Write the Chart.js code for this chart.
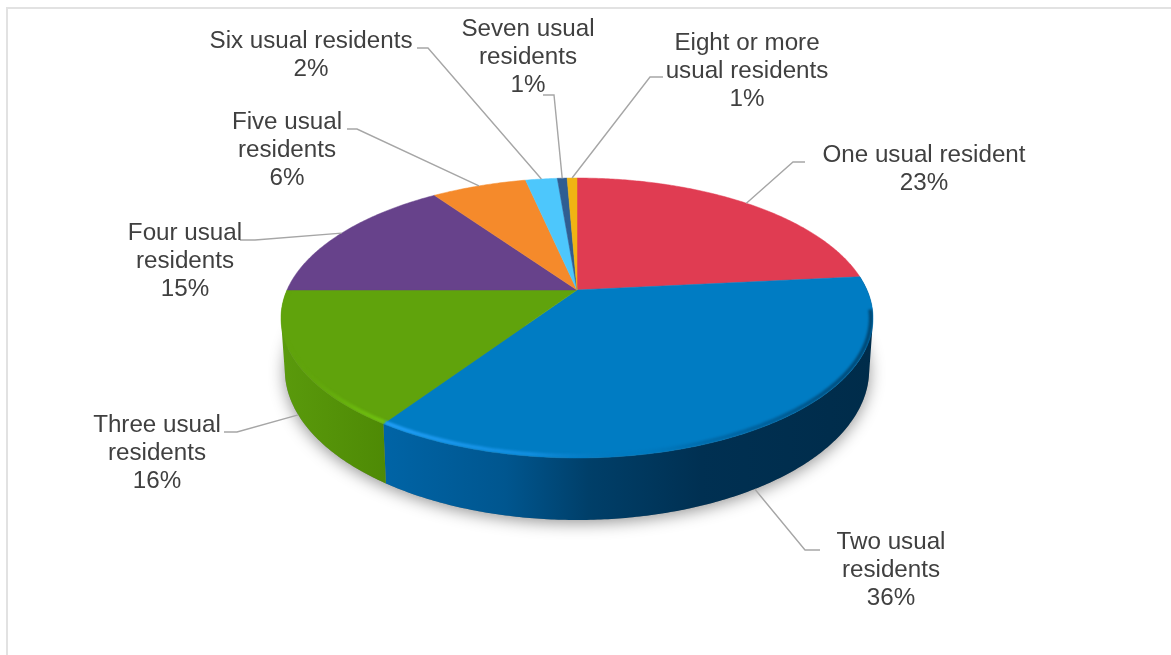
<!DOCTYPE html>
<html>
<head>
<meta charset="utf-8">
<title>Usual residents</title>
<script src="https://cdn.jsdelivr.net/npm/chart.js@4"></script>
<style>
  html, body { margin: 0; padding: 0; background: #fff; }
  #wrap { position: relative; width: 1171px; height: 655px; overflow: hidden; }
  #frame { position: absolute; left: 6px; top: 7px; width: 1300px; height: 800px; border: 2px solid #e2e2e2; box-sizing: border-box; }
  canvas { position: absolute; left: 0; top: 0; }
</style>
</head>
<body>
<div id="wrap">
  <div id="frame"></div>
  <canvas id="myPieChart" width="1171" height="655"></canvas>
</div>
<script>
const categories = ["One usual resident", "Two usual residents", "Three usual residents", "Four usual residents", "Five usual residents", "Six usual residents", "Seven usual residents", "Eight or more usual residents"];
const shares = [23.4, 36, 15.6, 15.3, 6.3, 2.1, 0.65, 0.65];
const sliceColors = ["#e03c52", "#007cc3", "#60a30c", "#67428b", "#f58a2b", "#4dc7fc", "#2f5d92", "#f0b413"];

// label lines, wrapped the way the picture wraps them
const labelLines = [
  ["One usual resident"],
  ["Two usual", "residents"],
  ["Three usual", "residents"],
  ["Four usual", "residents"],
  ["Five usual", "residents"],
  ["Six usual residents"],
  ["Seven usual", "residents"],
  ["Eight or more", "usual residents"]
];
// page layout of the labels: centre x and first baseline y
const labelAnchors = [[924, 162], [891, 549], [157, 432], [185, 240], [287, 129], [311, 48], [528, 36], [747, 50]];
// leader elbows, from the slice edge out to the label
const leaderElbows = [
  [[793, 162], [805, 162]],
  [[805, 550], [820, 550]],
  [[237, 432], [224, 432]],
  [[255, 240], [240, 240]],
  [[357, 129], [347, 129]],
  [[428, 48], [417, 48]],
  [[554, 95], [543, 95]],
  [[650, 77], [663, 77]]
];
const wallStops = [
  null,
  [[0, "#0064a6"], [0.25, "#00568f"], [0.42, "#003f69"], [0.65, "#003052"], [1, "#002c4a"]],
  [[0, "#5a9a0c"], [1, "#4e8a05"]],
  null, null, null, null, null
];

const tilt = 0.4634;
const persp = 0.2;
const rimMidY = 28;      // centre of the drawn ellipse sits below the pie centre
const wallDrop = 52;
const wallGrow = 1.0714; // base ellipse is a little taller than the top one
const wallShrink = 0.987;

function project(arc, a) {
  const u = Math.cos(a), v = Math.sin(a);
  const w = 1 - persp * v;
  return [arc.x + arc.outerRadius * u / w, arc.y + arc.outerRadius * tilt * v / w];
}

function lower(arc, p) {
  const mid = arc.y + rimMidY;
  return [arc.x + (p[0] - arc.x) * wallShrink, mid + wallDrop + (p[1] - mid) * wallGrow];
}

function rimPoints(arc, from, to) {
  const n = Math.max(2, Math.ceil(Math.abs(to - from) / 0.01));
  const pts = [];
  for (let i = 0; i <= n; i++) pts.push(project(arc, from + (to - from) * i / n));
  return pts;
}

function trace(ctx, pts) {
  pts.forEach((p, i) => i ? ctx.lineTo(p[0], p[1]) : ctx.moveTo(p[0], p[1]));
}

function signedArea(pts) {
  let s = 0;
  pts.forEach((p, i) => {
    const q = pts[(i + 1) % pts.length];
    s += p[0] * q[1] - q[0] * p[1];
  });
  return s;
}

const pie3d = {
  id: "pie3d",
  beforeDatasetsDraw(chart) {
    const ctx = chart.ctx;
    const arcs = chart.getDatasetMeta(0).data;
    const first = arcs[0];

    // soft shadow under the base
    ctx.save();
    ctx.shadowColor = "rgba(0,0,0,0.42)";
    ctx.shadowBlur = 16;
    ctx.shadowOffsetY = 3;
    ctx.fillStyle = "#888";
    ctx.beginPath();
    trace(ctx, rimPoints(first, -0.1, Math.PI + 0.1).map(p => lower(first, p)));
    ctx.closePath();
    ctx.fill();
    ctx.restore();

    // walls: top rim swept down to the base rim, all strips in one path so no seams show
    arcs.forEach((arc, i) => {
      if (!wallStops[i]) return;
      const top = rimPoints(arc, arc.startAngle, arc.endAngle);
      const bottom = top.map(p => lower(arc, p));
      const xs = top.map(p => p[0]).concat(bottom.map(p => p[0]));
      const g = ctx.createLinearGradient(Math.min(...xs), 0, Math.max(...xs), 0);
      wallStops[i].forEach(s => g.addColorStop(s[0], s[1]));
      ctx.fillStyle = g;
      ctx.beginPath();
      for (let k = 0; k < top.length - 1; k++) {
        const quad = [top[k], top[k + 1], bottom[k + 1], bottom[k]];
        if (signedArea(quad) < 0) quad.reverse();
        trace(ctx, quad);
        ctx.closePath();
      }
      ctx.fill();
    });

    // top face
    arcs.forEach((arc, i) => {
      ctx.beginPath();
      ctx.moveTo(arc.x, arc.y);
      rimPoints(arc, arc.startAngle, arc.endAngle).forEach(p => ctx.lineTo(p[0], p[1]));
      ctx.closePath();
      ctx.fillStyle = sliceColors[i];
      ctx.fill();
      ctx.strokeStyle = sliceColors[i];
      ctx.lineWidth = 0.5;
      ctx.stroke();
    });

    // bevel just inside the front rim: light on the left, dark on the right
    ctx.save();
    ctx.beginPath();
    trace(ctx, rimPoints(first, 0, Math.PI * 2));
    ctx.closePath();
    ctx.clip();
    ctx.filter = "blur(1.3px)";
    ctx.lineWidth = 4;
    [1, 2].forEach(i => {
      const arc = arcs[i];
      const mid = arc.y + rimMidY;
      const from = i === 1 ? 0.14 : arc.startAngle;
      const pts = rimPoints(arc, from, arc.endAngle).map(p => [arc.x + (p[0] - arc.x) * 0.993, mid + (p[1] - mid) * 0.985]);
      const g = ctx.createLinearGradient(arc.x - arc.outerRadius, 0, arc.x + arc.outerRadius, 0);
      if (i === 1) {
        g.addColorStop(0.17, "rgba(35,160,250,0.95)");
        g.addColorStop(0.42, "rgba(25,150,235,0.7)");
        g.addColorStop(0.6, "rgba(0,110,175,0.1)");
        g.addColorStop(0.72, "rgba(0,70,120,0.3)");
        g.addColorStop(1, "rgba(0,45,75,0.65)");
      } else {
        g.addColorStop(0, "rgba(96,163,12,0)");
        g.addColorStop(0.12, "rgba(110,190,15,0.8)");
        g.addColorStop(0.18, "rgba(115,200,18,0.9)");
      }
      ctx.strokeStyle = g;
      ctx.beginPath();
      trace(ctx, pts);
      ctx.stroke();
    });
    ctx.restore();

    // leaders and labels
    arcs.forEach((arc, i) => {
      const midAngle = (arc.startAngle + arc.endAngle) / 2;
      let start = project(arc, midAngle);
      if (wallStops[i]) start = lower(arc, start);
      ctx.beginPath();
      trace(ctx, [start, ...leaderElbows[i]]);
      ctx.strokeStyle = "#a6a6a6";
      ctx.lineWidth = 1.4;
      ctx.stroke();

      const lines = [...labelLines[i], Math.round(shares[i]) + "%"];
      ctx.font = "24.2px 'Liberation Sans', Arial, sans-serif";
      ctx.fillStyle = "#404040";
      ctx.textAlign = "center";
      ctx.textBaseline = "alphabetic";
      lines.forEach((t, k) => ctx.fillText(t, labelAnchors[i][0], labelAnchors[i][1] + k * 28));
    });
    return false;
  }
};

new Chart(document.getElementById("myPieChart").getContext("2d"), {
  type: "pie",
  data: {
    labels: categories,
    datasets: [{ data: shares, backgroundColor: sliceColors, borderWidth: 0 }]
  },
  options: {
    responsive: false,
    animation: false,
    layout: { padding: { left: 287, right: 304, top: 0, bottom: 75 } },
    plugins: { legend: { display: false }, tooltip: { enabled: false } }
  },
  plugins: [pie3d]
});
</script>
</body>
</html>
